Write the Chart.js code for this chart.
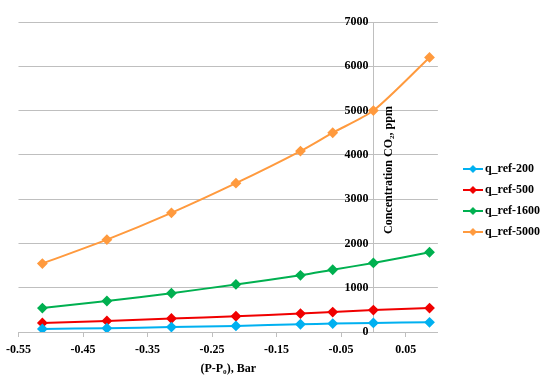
<!DOCTYPE html>
<html>
<head>
<meta charset="utf-8">
<script src="https://cdn.jsdelivr.net/npm/chart.js@4/dist/chart.umd.min.js"></script>
<style>
  html, body { margin: 0; padding: 0; background: #fff; }
  #wrap { width: 550px; height: 379px; }
</style>
</head>
<body>
<div id="wrap"><canvas id="graph" width="550" height="379"></canvas></div>
<script>
// pressure difference (P-P0), Bar
const pressure = [-0.513, -0.413, -0.313, -0.213, -0.113, -0.063, 0, 0.087];
// concentration CO2, ppm
const qRef200 = [70, 85, 112, 137, 175, 190, 205, 218];
const qRef500 = [205, 250, 305, 355, 415, 450, 495, 540];
const qRef1600 = [540, 700, 875, 1075, 1280, 1405, 1560, 1800];
const qRef5000 = [1545, 2085, 2690, 3360, 4085, 4500, 5000, 6200];
const seriesNames = ['q_ref-200', 'q_ref-500', 'q_ref-1600', 'q_ref-5000'];
const xTicks = [-0.55, -0.45, -0.35, -0.25, -0.15, -0.05, 0.05];

const colors = ['#00B0F0', '#F00000', '#00B050', '#FF9A3E'];
const font = 'Liberation Serif';

function pts(ys) {
	return pressure.map((x, i) => ({ x: x, y: ys[i] }));
}

// little line+diamond picture for the legend
function legendMark(color) {
	const c = document.createElement('canvas');
	c.width = 20; c.height = 10;
	const g = c.getContext('2d');
	g.strokeStyle = color; g.lineWidth = 2;
	g.beginPath(); g.moveTo(0, 5); g.lineTo(20, 5); g.stroke();
	g.fillStyle = color;
	g.beginPath(); g.moveTo(10, 1); g.lineTo(14, 5); g.lineTo(10, 9); g.lineTo(6, 5); g.closePath(); g.fill();
	return c;
}

const ctx = document.getElementById('graph').getContext('2d');

// y axis sits at x = 0: labels left of the line, title right of it
const yAxisText = {
	id: 'yAxisText',
	afterLayout(chart) {
		// keep the legend where it was, plot area ends earlier
		chart.legend.left += 20;
		chart.legend.right += 20;
	},
	afterDraw(chart) {
		const c = chart.ctx;
		const y = chart.scales.y;
		const x0 = chart.scales.x.getPixelForValue(0);
		c.save();
		c.font = 'bold 12px "' + font + '"';
		c.fillStyle = '#000';
		c.textAlign = 'right';
		c.textBaseline = 'middle';
		y.ticks.forEach(t => {
			c.fillText(String(t.value), x0 - 5, y.getPixelForValue(t.value));
		});
		c.translate(x0 + 16, 170);
		c.rotate(-Math.PI / 2);
		c.textAlign = 'center';
		c.fillText('Concentration CO\u2082, ppm', 0, 0);
		c.restore();
	}
};

const chart = new Chart(ctx, {
	type: 'scatter',
	data: {
		datasets: [qRef200, qRef500, qRef1600, qRef5000].map((d, i) => ({
			label: seriesNames[i],
			data: pts(d),
			showLine: true,
			borderColor: colors[i],
			backgroundColor: colors[i],
			borderWidth: 2,
			pointStyle: 'rectRot',
			pointRadius: 4,
			pointHoverRadius: 4,
			tension: 0.25
		}))
	},
	options: {
		responsive: false,
		animation: false,
		layout: { padding: { top: 22, left: 18, right: 20, bottom: 0 } },
		plugins: {
			tooltip: { enabled: false },
			legend: {
				position: 'right',
				labels: {
					usePointStyle: true,
					padding: 9,
					color: '#000',
					font: { family: font, size: 12, weight: 'bold' },
					generateLabels(chart) {
						return chart.data.datasets.map((ds, i) => ({
							text: ds.label,
							pointStyle: legendMark(colors[i]),
							fillStyle: colors[i],
							strokeStyle: colors[i],
							lineWidth: 0,
							fontColor: '#000',
							datasetIndex: i
						}));
					}
				}
			}
		},
		scales: {
			x: {
				type: 'linear',
				min: -0.55,
				max: 0.1,
				afterBuildTicks(s) { s.ticks = xTicks.map(v => ({ value: v })); },
				afterFit(s) { s.height = 47; },
				grid: { drawOnChartArea: false, drawTicks: true, tickLength: 5, color: '#BFBFBF', lineWidth: 1 },
				border: { color: '#BFBFBF', width: 1 },
				ticks: {
					color: '#000',
					padding: 6,
					font: { family: font, size: 12, weight: 'bold' },
					callback: v => v.toFixed(2)
				},
				title: {
					display: true,
					text: '(P-P\u2080), Bar',
					color: '#000',
					font: { family: font, size: 12, weight: 'bold' },
					padding: { top: 0, bottom: 3 }
				}
			},
			y: {
				type: 'linear',
				position: { x: 0 },
				min: 0,
				max: 7000,
				ticks: { stepSize: 1000, display: false },
				grid: { color: '#BFBFBF', lineWidth: 1, drawTicks: false },
				border: { color: '#BFBFBF', width: 1 }
			}
		}
	},
	plugins: [yAxisText]
});
</script>
</body>
</html>
